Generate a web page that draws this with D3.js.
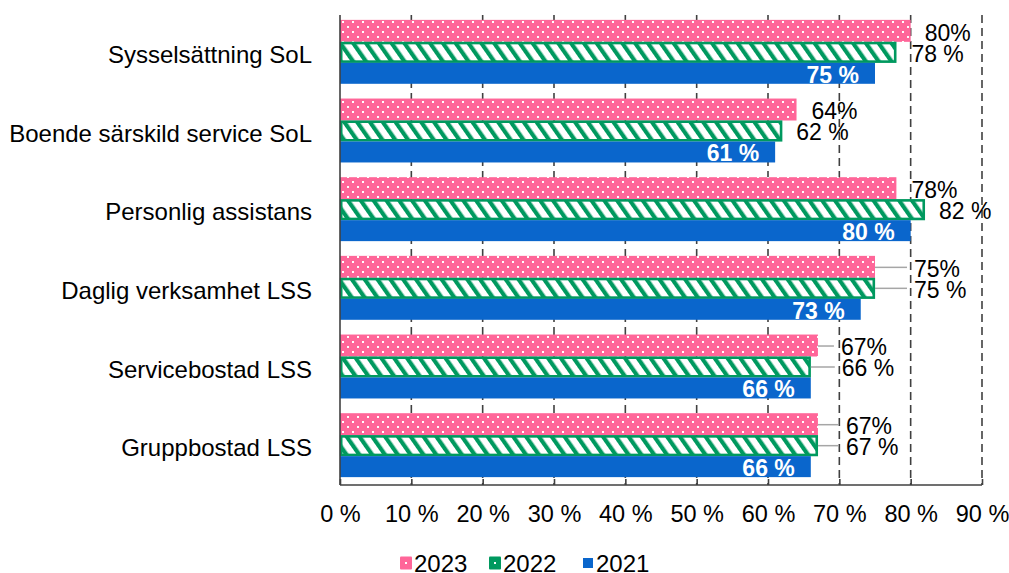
<!DOCTYPE html>
<html>
<head>
<meta charset="utf-8">
<script src="https://cdn.jsdelivr.net/npm/d3@7"></script>
<style>
  html, body { margin: 0; padding: 0; background: #fff; }
  svg { display: block; font-family: "Liberation Sans", Arial, sans-serif; }
</style>
</head>
<body>
<svg id="chart" width="1009" height="573"></svg>
<script>
// ---------- data ----------
const categories = [
  "Sysselsättning SoL",
  "Boende särskild service SoL",
  "Personlig assistans",
  "Daglig verksamhet LSS",
  "Servicebostad LSS",
  "Gruppbostad LSS"
];
const seriesNames = ["2023", "2022", "2021"];
const values2023 = [80, 64, 78, 75, 67, 67];
const values2022 = [78, 62, 82, 75, 66, 67];
const values2021 = [75, 61, 80, 73, 66, 66];
const xTicks = [0, 10, 20, 30, 40, 50, 60, 70, 80, 90];
const xTickLabels = ["0 %", "10 %", "20 %", "30 %", "40 %", "50 %", "60 %", "70 %", "80 %", "90 %"];

// ---------- layout (not data) ----------
const labelDx2023 = [14, 15, 15, 39, 23, 28];
const labelDx2022 = [15, 14, 14, 39, 31, 28];

const svg = d3.select("#chart");
const defs = svg.append("defs");

// pink dotted pattern
const pDots = defs.append("pattern").attr("id", "dots")
  .attr("patternUnits", "userSpaceOnUse").attr("width", 10).attr("height", 10);
pDots.append("rect").attr("width", 10).attr("height", 10).attr("fill", "#FF6699");
pDots.append("rect").attr("x", 2).attr("y", 1).attr("width", 2).attr("height", 2).attr("fill", "#fff");
pDots.append("rect").attr("x", 7).attr("y", 6).attr("width", 2).attr("height", 2).attr("fill", "#fff");

// green diagonal stripes
const pStr = defs.append("pattern").attr("id", "stripes")
  .attr("patternUnits", "userSpaceOnUse").attr("width", 10.5).attr("height", 10.5)
  .attr("patternTransform", "rotate(-35)");
pStr.append("rect").attr("width", 10.5).attr("height", 10.5).attr("fill", "#fff");
pStr.append("rect").attr("x", 0).attr("y", 0).attr("width", 4.2).attr("height", 10.5).attr("fill", "#00995F");

const fills = { "2023": "url(#dots)", "2022": "url(#stripes)", "2021": "#0A66CC" };
const legendFills = { "2023": "#FF6699", "2022": "#00995F", "2021": "#0A66CC" };

const x = d3.scaleLinear().domain([0, 90]).range([340, 982]);
const y0 = d3.scaleBand().domain(categories).range([13, 485]).paddingInner(0.2).paddingOuter(0.1);
const y1 = d3.scaleBand().domain(seriesNames).range([0, y0.bandwidth()]);

const plotTop = 15, plotBottom = 485;

// gridlines
svg.append("g").selectAll("line").data(xTicks.slice(1)).join("line")
  .attr("x1", d => x(d)).attr("x2", d => x(d))
  .attr("y1", plotTop).attr("y2", plotBottom)
  .attr("stroke", "#404040").attr("stroke-width", 1.6)
  .attr("stroke-dasharray", "8,5");

// data rows
const rows = categories.map((c, i) => ({
  cat: c,
  vals: { "2023": values2023[i], "2022": values2022[i], "2021": values2021[i] },
  i
}));

const g = svg.append("g");
rows.forEach(r => {
  const gy = y0(r.cat);
  seriesNames.forEach(s => {
    const v = r.vals[s];
    const by = gy + y1(s);
    const bh = y1.bandwidth();
    if (s === "2022") {
      g.append("rect")
        .attr("x", x(0) + 1.2).attr("y", by + 1.2)
        .attr("width", x(v) - x(0) - 2.4).attr("height", bh - 2.4)
        .attr("fill", fills[s]).attr("stroke", "#00995F").attr("stroke-width", 2.6);
    } else if (s === "2023") {
      g.append("rect")
        .attr("x", x(0)).attr("y", by - 1)
        .attr("width", x(v) - x(0)).attr("height", bh + 1)
        .attr("fill", fills[s]);
    } else {
      g.append("rect")
        .attr("x", x(0)).attr("y", by)
        .attr("width", x(v) - x(0)).attr("height", bh)
        .attr("fill", fills[s]);
    }
  });
});

// value labels
const lab = svg.append("g").attr("font-size", 23).attr("fill", "#000");
rows.forEach(r => {
  const gy = y0(r.cat);
  const bh = y1.bandwidth();
  // 2023
  {
    const v = r.vals["2023"];
    const cy = gy + y1("2023") + bh / 2;
    const dx = labelDx2023[r.i];
    if (dx > 20) {
      lab.append("line").attr("x1", x(v)).attr("x2", x(v) + dx - 7)
        .attr("y1", cy).attr("y2", cy).attr("stroke", "#A6A6A6").attr("stroke-width", 1.5);
    }
    lab.append("text").attr("x", x(v) + dx).attr("y", cy + 1).attr("dy", "0.36em")
      .text(v + "%");
  }
  // 2022
  {
    const v = r.vals["2022"];
    const cy = gy + y1("2022") + bh / 2;
    const dx = labelDx2022[r.i];
    if (dx > 20) {
      lab.append("line").attr("x1", x(v)).attr("x2", x(v) + dx - 7)
        .attr("y1", cy).attr("y2", cy).attr("stroke", "#A6A6A6").attr("stroke-width", 1.5);
    }
    lab.append("text").attr("x", x(v) + dx).attr("y", cy + 1).attr("dy", "0.36em")
      .text(v + " %");
  }
  // 2021 inside
  {
    const v = r.vals["2021"];
    const cy = gy + y1("2021") + bh / 2;
    lab.append("text").attr("x", x(v) - 16).attr("y", cy + 1).attr("dy", "0.36em")
      .attr("text-anchor", "end").attr("font-weight", "bold").attr("fill", "#fff")
      .text(v + " %");
  }
});

// axes
svg.append("line").attr("x1", x(0)).attr("x2", x(0)).attr("y1", plotTop).attr("y2", plotBottom)
  .attr("stroke", "#404040").attr("stroke-width", 1.6);

const xAxis = d3.axisBottom(x).tickValues(xTicks).tickSize(-6).tickPadding(20)
  .tickFormat((d, i) => xTickLabels[i]);
const xa = svg.append("g").attr("transform", `translate(0,${plotBottom})`).call(xAxis);
xa.select(".domain").attr("stroke", "#404040").attr("stroke-width", 1.6).attr("d", `M${x(0)},0H${x(90)}`);
xa.selectAll(".tick line").attr("stroke", "#404040").attr("stroke-width", 1.6);
xa.selectAll(".tick text").attr("font-size", 23.5).attr("font-family", "Liberation Sans, Arial, sans-serif").attr("fill", "#000");

// category labels
svg.append("g").selectAll("text").data(categories).join("text")
  .attr("x", 312).attr("y", d => y0(d) + y0.bandwidth() / 2 + 2)
  .attr("dy", "0.36em").attr("text-anchor", "end")
  .attr("font-size", 24).attr("fill", "#000").text(d => d);

// legend
const legend = svg.append("g").attr("transform", "translate(400,563)");
const legendX = [0, 89, 182];
seriesNames.forEach((s, i) => {
  const lg = legend.append("g").attr("transform", `translate(${legendX[i]},0)`);
  if (s === "2021") {
    lg.append("rect").attr("x", 1).attr("y", -5).attr("width", 10).attr("height", 10).attr("fill", legendFills[s]);
  } else {
    lg.append("rect").attr("x", 0).attr("y", -6.5).attr("width", 12).attr("height", 13).attr("fill", legendFills[s]).attr("rx", 1);
    lg.append("rect").attr("x", 5).attr("y", -1).attr("width", 2).attr("height", 2).attr("fill", "#fff");
  }
  lg.append("text").attr("x", 14).attr("y", 0).attr("dy", "0.36em")
    .attr("font-size", 24).attr("fill", "#000").text(s);
});
</script>
</body>
</html>
